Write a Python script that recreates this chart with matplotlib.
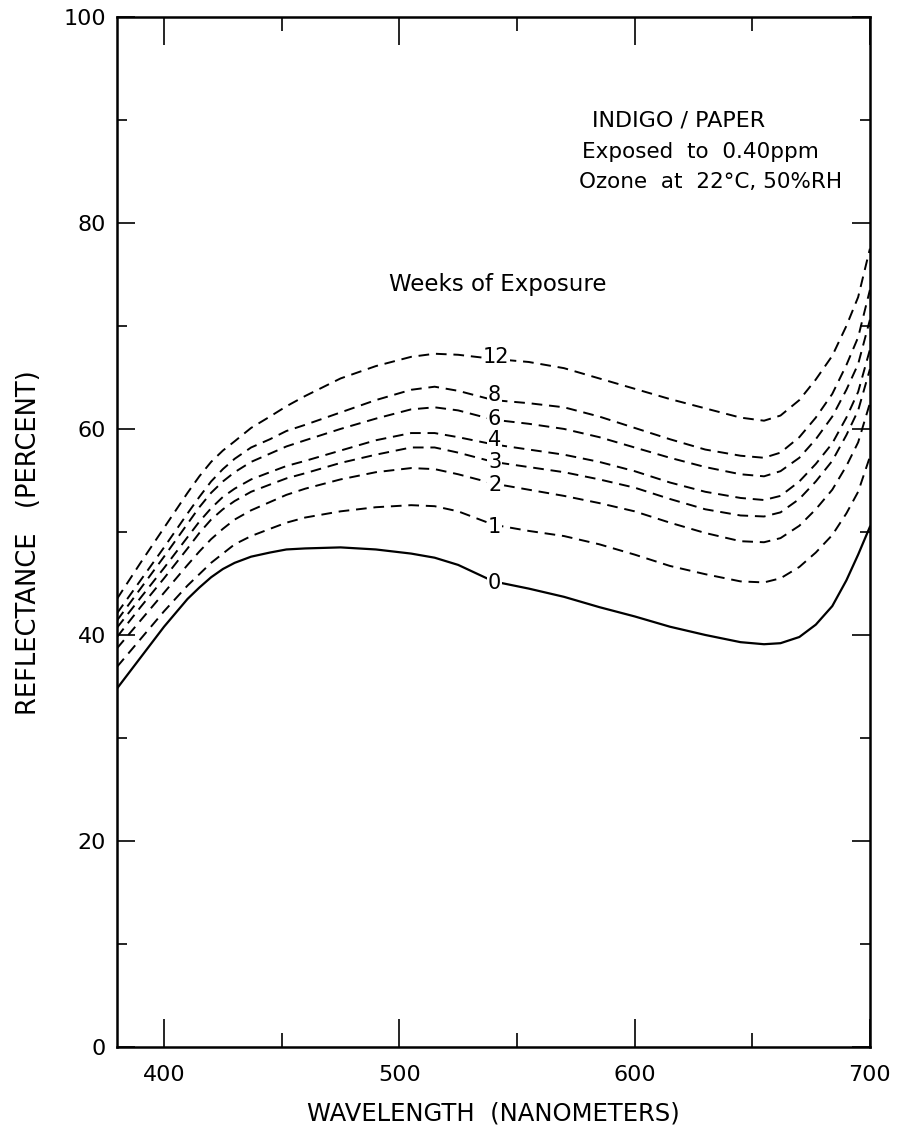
import numpy as np
import matplotlib
matplotlib.use("Agg")
import matplotlib.pyplot as plt
from matplotlib.ticker import MultipleLocator

# wavelength grid (nm) the curves were read at
wavelength = [380, 390, 400, 410, 415, 420, 425, 430, 437, 445, 452, 460, 475, 490, 505, 515, 525,
              540, 555, 570, 585, 600, 615, 630, 645, 655, 662, 670, 677, 684, 690, 695, 700]

# reflectance (%) for each number of weeks of exposure
week0 = [34.8, 37.8, 40.8, 43.5, 44.6, 45.6, 46.4, 47.0, 47.6, 48.0, 48.3, 48.4, 48.5, 48.3, 47.9, 47.5, 46.8,
         45.2, 44.5, 43.7, 42.7, 41.8, 40.8, 40.0, 39.3, 39.1, 39.2, 39.8, 41.0, 42.8, 45.3, 47.8, 50.5]
week1 = [36.9, 39.6, 42.3, 44.8, 45.9, 47.0, 47.9, 48.8, 49.6, 50.3, 50.9, 51.4, 52.0, 52.4, 52.6, 52.5, 52.0,
         50.7, 50.1, 49.6, 48.8, 47.8, 46.7, 45.9, 45.2, 45.1, 45.5, 46.6, 48.0, 49.7, 51.8, 53.9, 57.3]
week2 = [38.7, 41.4, 44.1, 46.8, 48.1, 49.3, 50.3, 51.2, 52.1, 52.9, 53.6, 54.2, 55.1, 55.8, 56.2, 56.1, 55.6,
         54.7, 54.1, 53.5, 52.8, 52.0, 50.9, 49.9, 49.1, 49.0, 49.4, 50.6, 52.2, 54.1, 56.4, 58.7, 62.5]
week3 = [39.8, 42.7, 45.5, 48.4, 49.9, 51.2, 52.2, 53.0, 53.9, 54.6, 55.2, 55.7, 56.7, 57.5, 58.2, 58.2, 57.7,
         56.8, 56.3, 55.8, 55.1, 54.3, 53.2, 52.2, 51.6, 51.5, 51.9, 53.2, 54.9, 56.9, 59.4, 61.8, 65.8]
week4 = [40.7, 43.6, 46.5, 49.5, 51.0, 52.3, 53.4, 54.2, 55.1, 55.8, 56.4, 56.9, 57.9, 58.9, 59.6, 59.6, 59.2,
         58.5, 58.0, 57.5, 56.8, 55.9, 54.8, 53.9, 53.3, 53.1, 53.5, 54.9, 56.6, 58.6, 61.1, 63.6, 67.7]
week6 = [41.4, 44.5, 47.6, 50.8, 52.4, 53.8, 54.9, 55.8, 56.8, 57.6, 58.3, 58.9, 60.0, 61.0, 61.9, 62.1, 61.8,
         60.9, 60.5, 60.0, 59.2, 58.2, 57.2, 56.3, 55.6, 55.4, 55.9, 57.2, 59.0, 61.2, 63.8, 66.3, 70.6]
week8 = [42.1, 45.3, 48.5, 51.8, 53.4, 54.9, 56.1, 57.1, 58.2, 59.0, 59.8, 60.4, 61.6, 62.8, 63.8, 64.1, 63.7,
         62.8, 62.5, 62.1, 61.2, 60.1, 59.0, 58.0, 57.4, 57.2, 57.7, 59.2, 61.1, 63.4, 66.2, 68.9, 73.5]
week12 = [43.5, 47.0, 50.4, 53.8, 55.4, 56.8, 57.9, 58.8, 60.1, 61.2, 62.2, 63.2, 64.9, 66.1, 67.0, 67.3, 67.2,
          66.8, 66.5, 65.9, 64.9, 63.9, 62.9, 62.0, 61.1, 60.8, 61.3, 62.8, 64.8, 67.1, 70.0, 72.8, 77.5]

curve_labels = ["0", "1", "2", "3", "4", "6", "8", "12"]
label_x = [540.5, 540.5, 540.5, 540.5, 540.5, 540.5, 540.5, 541]
label_y = [45.0, 50.5, 54.6, 56.8, 58.9, 61.0, 63.3, 67.0]

curves = [week0, week1, week2, week3, week4, week6, week8, week12]

fig = plt.figure(figsize=(9.09, 11.27), dpi=100)
ax = fig.add_axes([0.1287, 0.071, 0.8283, 0.914])

for i, vals in enumerate(curves):
    if i == 0:
        ax.plot(wavelength, vals, color="black", lw=1.6, solid_joinstyle="round")
    else:
        ax.plot(wavelength, vals, color="black", lw=1.4, linestyle=(0, (5.5, 3.5)),
                dash_joinstyle="round")
    ax.text(label_x[i], label_y[i], curve_labels[i], fontsize=15, ha="center", va="center",
            bbox=dict(facecolor="white", edgecolor="none", pad=0.8), zorder=5)

ax.set_xlim(380, 700)
ax.set_ylim(0, 100)
ax.xaxis.set_major_locator(MultipleLocator(100))
ax.xaxis.set_minor_locator(MultipleLocator(50))
ax.yaxis.set_major_locator(MultipleLocator(20))
ax.yaxis.set_minor_locator(MultipleLocator(10))

ax.tick_params(axis="both", which="both", direction="in", top=True, right=True,
               colors="black", width=1.2, labelsize=16)
ax.tick_params(axis="x", which="major", length=20, pad=13)
ax.tick_params(axis="x", which="minor", length=10)
ax.tick_params(axis="y", which="major", length=13, pad=8)
ax.tick_params(axis="y", which="minor", length=7)

for sp in ax.spines.values():
    sp.set_linewidth(1.8)

ax.set_xlabel("WAVELENGTH  (NANOMETERS)", fontsize=17.5, labelpad=12)
ax.set_ylabel("REFLECTANCE   (PERCENT)", fontsize=18.5)
ax.yaxis.set_label_coords(-0.1, 0.49)

ax.text(592 / 909, 1 - 121 / 1127, "INDIGO / PAPER", transform=fig.transFigure,
        fontsize=16, ha="left", va="center")
ax.text(582 / 909, 1 - 152 / 1127, "Exposed  to  0.40ppm", transform=fig.transFigure,
        fontsize=15.5, ha="left", va="center")
ax.text(579 / 909, 1 - 182 / 1127, "Ozone  at  22°C, 50%RH", transform=fig.transFigure,
        fontsize=15.5, ha="left", va="center")
ax.text(498 / 909, 1 - 285 / 1127, "Weeks of Exposure", transform=fig.transFigure,
        fontsize=16.5, ha="center", va="center")

fig.savefig("out.png", dpi=100)
